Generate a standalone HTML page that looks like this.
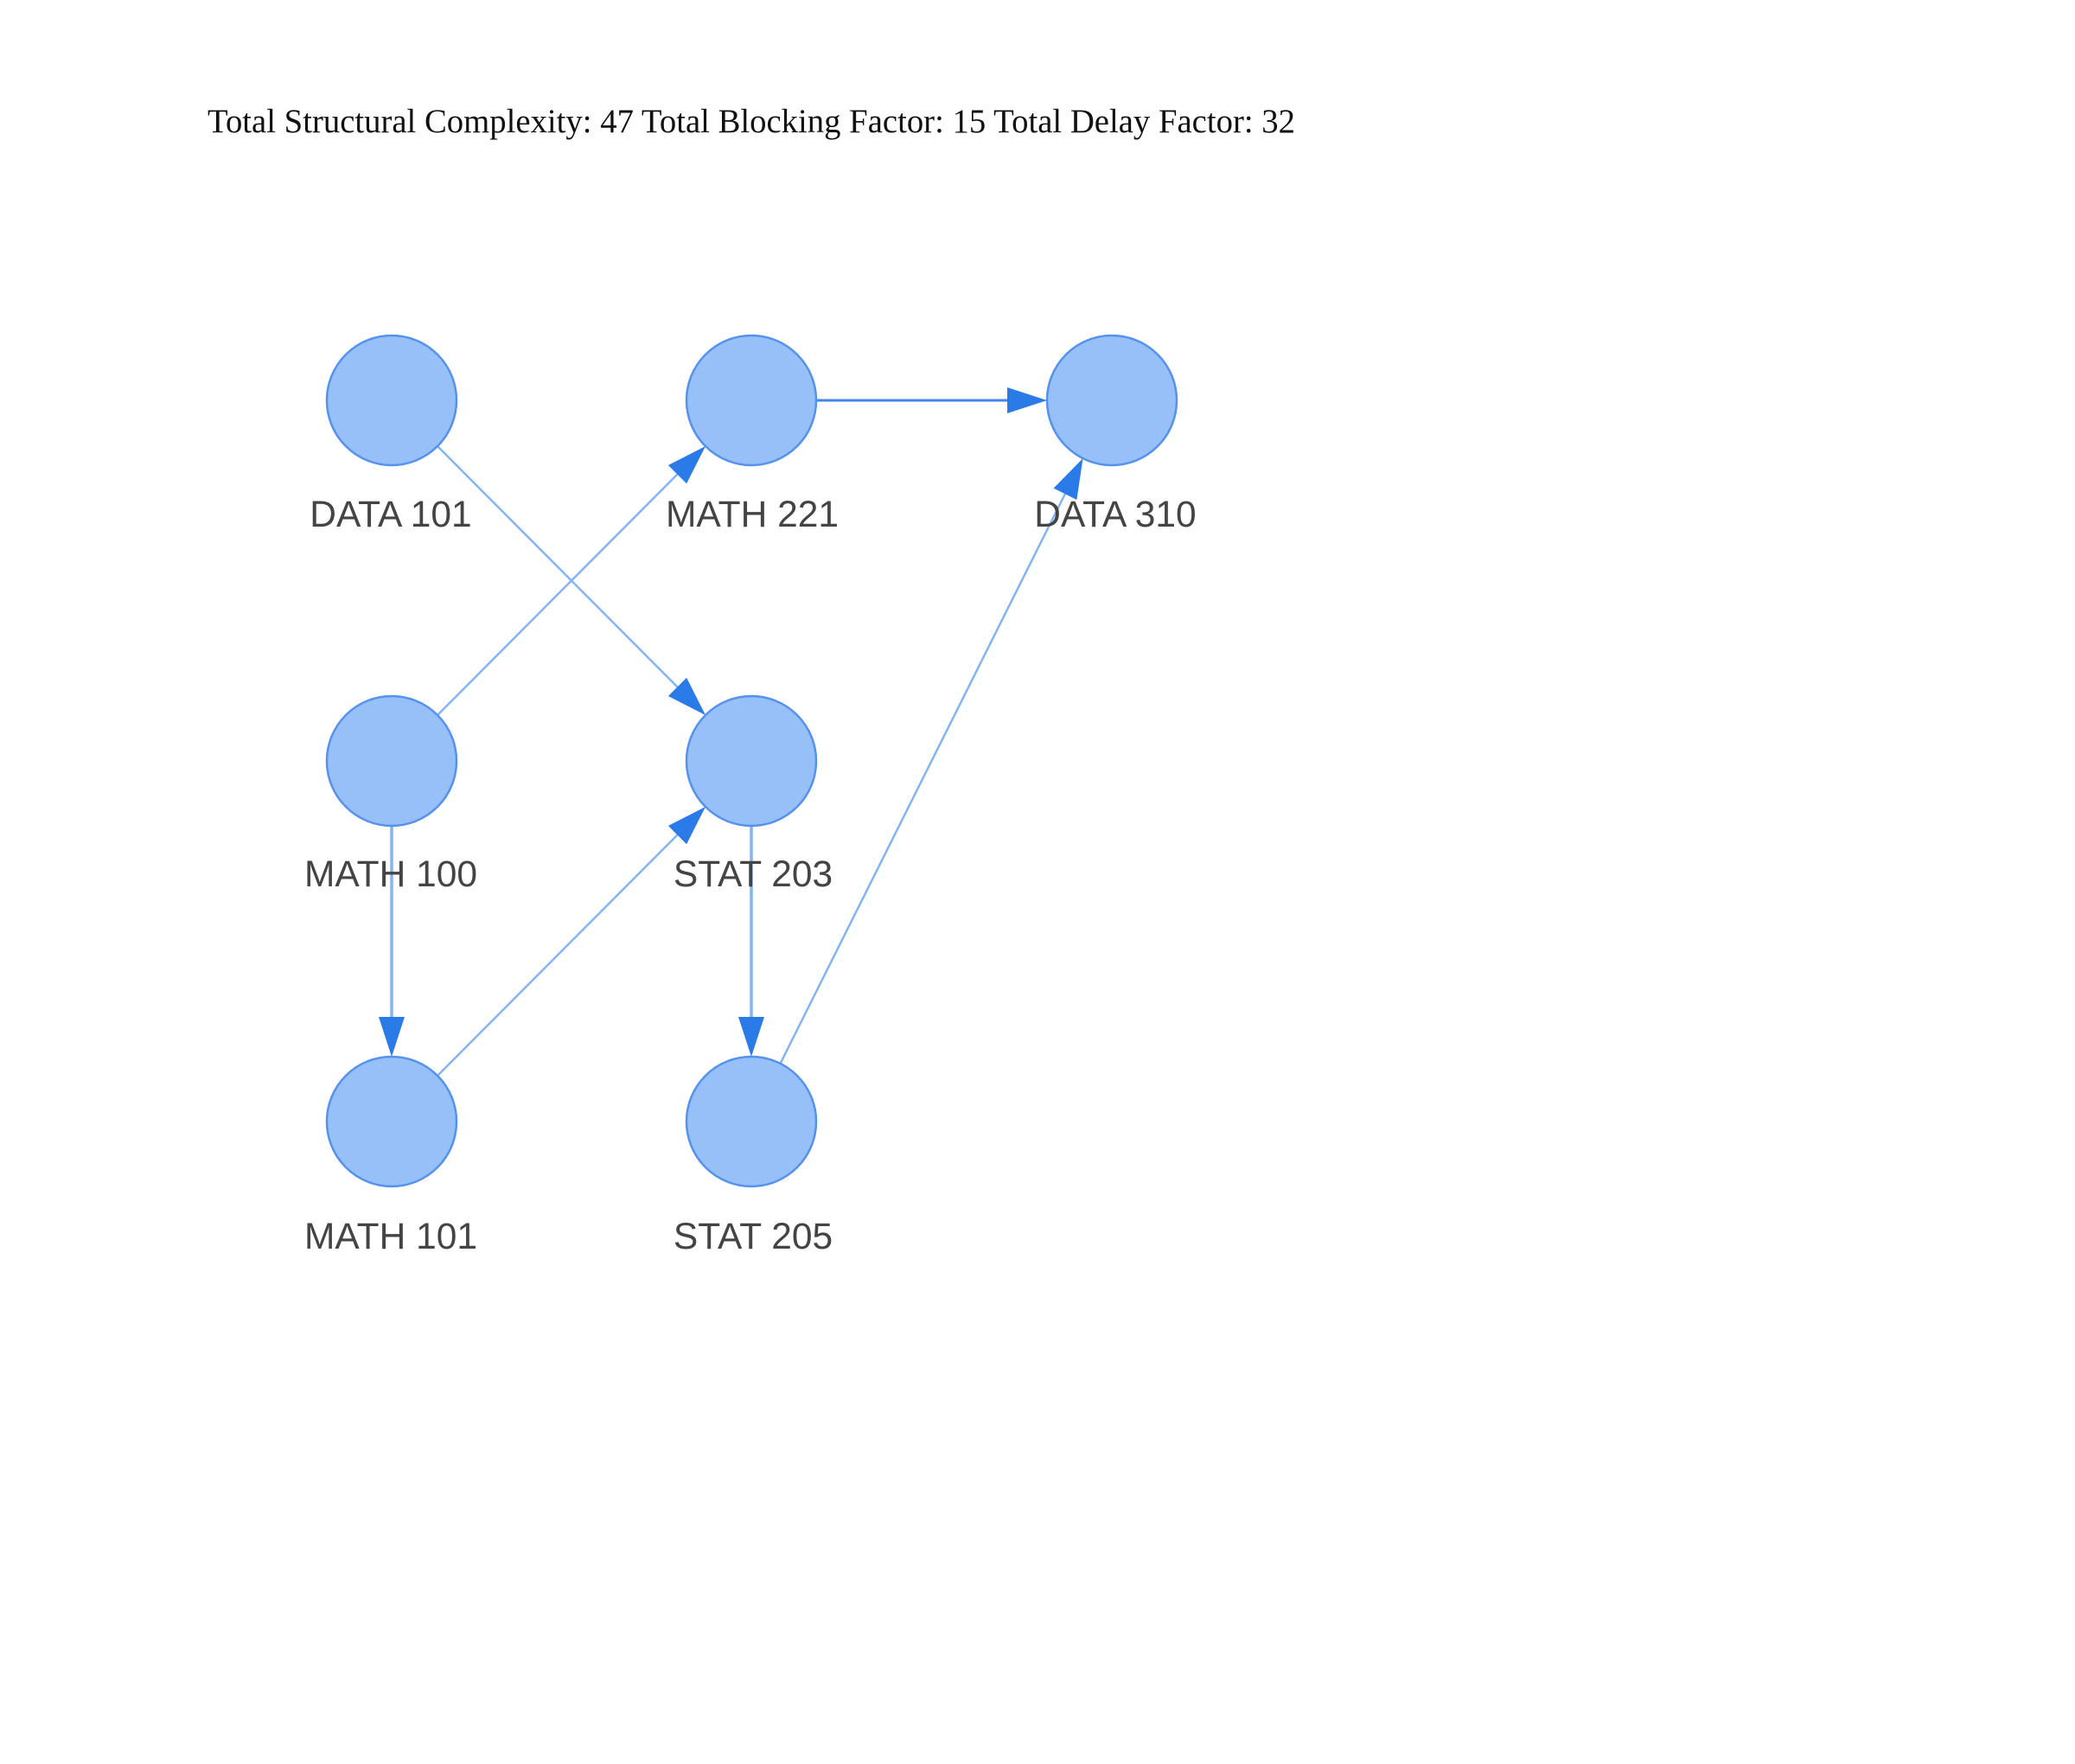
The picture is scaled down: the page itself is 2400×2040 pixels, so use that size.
<!DOCTYPE html>
<html><head><meta charset="utf-8"><style>
html,body{margin:0;padding:0;background:#fff;width:2400px;height:2040px;overflow:hidden}
</style></head><body>
<svg width="2400" height="2040" xmlns="http://www.w3.org/2000/svg">
<text x="240" y="153" font-family="Liberation Serif, serif" font-size="39" fill="#111" textLength="1258" lengthAdjust="spacingAndGlyphs">Total Structural Complexity: 47 Total Blocking Factor: 15 Total Delay Factor: 32</text>
<g stroke="#84b4f6" stroke-width="2.5" fill="none">
<line x1="506" y1="516" x2="785" y2="796"/>
<line x1="506" y1="827" x2="785" y2="547"/>
<line x1="506" y1="1244" x2="785" y2="964"/>
<line x1="902.5" y1="1229.9" x2="1232" y2="571"/>
<line x1="453" y1="955" x2="453" y2="1178" stroke-width="3.5"/>
<line x1="869" y1="955" x2="869" y2="1178" stroke-width="3.5"/>
<line x1="944" y1="463" x2="1166" y2="463" stroke="#3d86ec" stroke-width="3"/>
</g>
<g fill="#97c0f8" stroke="#5592ee" stroke-width="2.5">
<circle cx="453" cy="463" r="75"/>
<circle cx="869" cy="463" r="75"/>
<circle cx="1286" cy="463" r="75"/>
<circle cx="453" cy="880" r="75"/>
<circle cx="869" cy="880" r="75"/>
<circle cx="453" cy="1297" r="75"/>
<circle cx="869" cy="1297" r="75"/>
</g>
<g fill="#2a7ae8">
<polygon points="816,827 772.9,805 794.1,783.8"/>
<polygon points="816,516 794.1,559.2 772.9,538"/>
<polygon points="816,933 794.1,976.2 772.9,955"/>
<polygon points="1211,463 1165,448 1165,478"/>
<polygon points="453,1222 438,1176 468,1176"/>
<polygon points="869,1222 854,1176 884,1176"/>
<polygon points="1252.5,530.1 1245.4,578 1218.6,564.6"/>
</g>
<g font-family="Liberation Sans, Arial, sans-serif" font-size="42.5" fill="#444" text-anchor="middle">
<text x="452" y="609">DATA 101</text>
<text x="870" y="609">MATH 221</text>
<text x="1290" y="609">DATA 310</text>
<text x="452" y="1025">MATH 100</text>
<text x="871" y="1025">STAT 203</text>
<text x="452" y="1444">MATH 101</text>
<text x="871" y="1444">STAT 205</text>
</g>
</svg>
</body></html>
